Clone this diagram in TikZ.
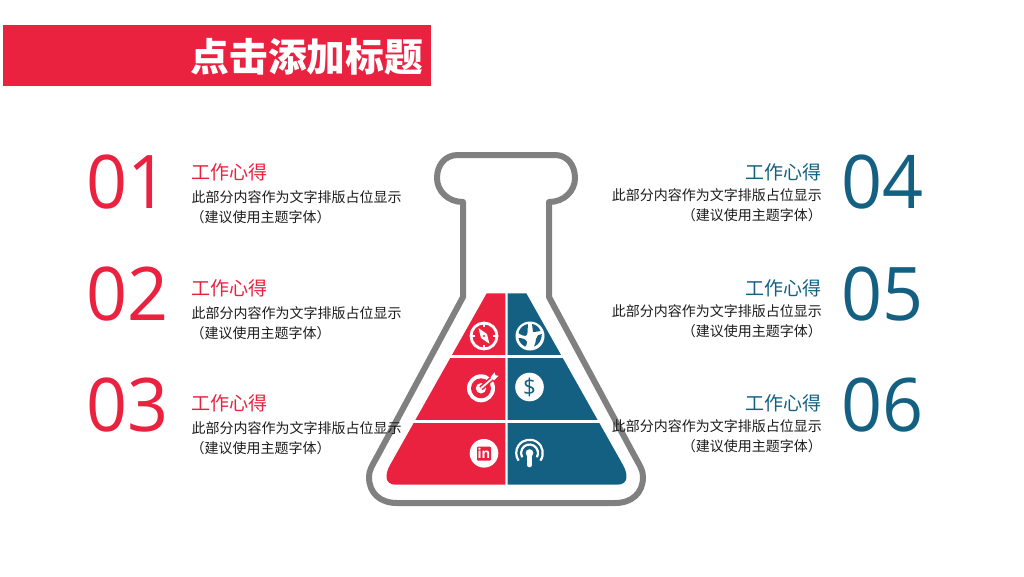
\documentclass[tikz,border=0pt]{standalone}
\usetikzlibrary{calc}
\usepackage{fontspec}
\setmainfont{Noto Sans CJK SC}
\newfontfamily\numfont[FakeStretch=0.97]{Open Sans}
\definecolor{brandred}{HTML}{EA2240}
\definecolor{brandblue}{HTML}{146082}
\definecolor{flaskgrey}{HTML}{808080}
\definecolor{bodyink}{HTML}{1C1C1C}
\tikzset{
  banner/.style={fill=brandred,draw=none},
  titletext/.style={anchor=base west,inner sep=0pt,text=white,font=\fontsize{38.8}{40}\selectfont\bfseries},
  bignum/.style={anchor=base west,inner sep=0pt,font=\fontsize{74}{74}\numfont},
  headL/.style={anchor=base west,inner sep=0pt,text=brandred,font=\fontsize{19}{20}\selectfont},
  headR/.style={anchor=base east,inner sep=0pt,text=brandblue,font=\fontsize{19}{20}\selectfont},
  bodyL/.style={anchor=base west,inner sep=0pt,text=bodyink,font=\fontsize{14}{15}\selectfont},
  bodyR/.style={anchor=base east,inner sep=0pt,text=bodyink,font=\fontsize{14}{15}\selectfont},
  flask/.style={draw=flaskgrey,line width=6pt,line join=round},
  disk/.style={fill=white,draw=none},
  iconline/.style={draw=white,line width=2.8pt,fill=none},
}
\begin{document}
\begin{tikzpicture}[x=1pt,y=-1pt]
\useasboundingbox (0,0) rectangle (1024,576);
\fill[white] (0,0) rectangle (1024,576);
% banner
\fill[banner] (3,25) rectangle (431,86);
\node[titletext] (title) at (190.3,71.5) {点击添加标题};
% pyramid
\fill[brandred] (505.3,293.3) -- (486.7,293.3) -- (390,465)
  .. controls (385,474) and (384,484.7) .. (396,484.7) -- (505.3,484.7) -- cycle;
\fill[brandblue] (507.7,293.3) -- (526.3,293.3) -- (623,465)
  .. controls (628,474) and (629,484.7) .. (617,484.7) -- (507.7,484.7) -- cycle;
\fill[white] (445,354.6) rectangle (569,357.6);
\fill[white] (405,419.8) rectangle (609,422.8);
% flask
\draw[flask] (458,155) -- (555,155)
  .. controls (567,155) and (575,165) .. (575,178)
  .. controls (575,191) and (564,202) .. (549,202)
  -- (549,297) -- (634,455)
  .. controls (640,466) and (643,470) .. (643,477)
  .. controls (643,493) and (632,503) .. (615,503)
  -- (397,503)
  .. controls (380,503) and (369,493) .. (369,477)
  .. controls (369,470) and (372,466) .. (378,455)
  -- (463,297) -- (463,202)
  .. controls (448,202) and (437,191) .. (437,178)
  .. controls (437,165) and (445,155) .. (458,155) -- cycle;
% compass icon
\coordinate (cmp) at (484,336);
\draw[iconline] (cmp) circle[radius=13pt];
\foreach \a in {0,90,180,270}{\draw[white,line width=2.6pt] (cmp) ++(\a:9pt) -- ++(\a:4pt);}
\fill[white] ($(cmp)+(125:9.5pt)$) -- ($(cmp)+(35:3.6pt)$) -- ($(cmp)+(-55:9.5pt)$) -- ($(cmp)+(215:3.6pt)$) -- cycle;
\fill[brandred] (cmp) circle[radius=1.2pt];
% globe icon
\coordinate (glb) at (530,336);
\fill[disk] (glb) circle[radius=14.5pt];
\fill[brandblue] ($(glb)+(-11.5,-3)$) .. controls ($(glb)+(-10.5,-8)$) and ($(glb)+(-7,-11)$) .. ($(glb)+(-2,-12)$)
  .. controls ($(glb)+(-2.5,-8)$) and ($(glb)+(-2,-5)$) .. ($(glb)+(-3,-1)$)
  .. controls ($(glb)+(-5,1)$) and ($(glb)+(-9,-1)$) .. ($(glb)+(-11.5,-3)$) -- cycle;
\fill[brandblue] ($(glb)+(2,-12)$) .. controls ($(glb)+(6,-11.5)$) and ($(glb)+(9,-9)$) .. ($(glb)+(10.5,-5)$)
  .. controls ($(glb)+(8,-3.5)$) and ($(glb)+(5,-5)$) .. ($(glb)+(3,-4)$)
  .. controls ($(glb)+(3,-7)$) and ($(glb)+(2,-9)$) .. ($(glb)+(2,-12)$) -- cycle;
\fill[brandblue] ($(glb)+(-11.5,2)$) .. controls ($(glb)+(-8,2)$) and ($(glb)+(-4,3)$) .. ($(glb)+(-3,6)$)
  .. controls ($(glb)+(-3,9)$) and ($(glb)+(-4,10)$) .. ($(glb)+(-5,10.5)$)
  .. controls ($(glb)+(-8,9)$) and ($(glb)+(-11,6)$) .. ($(glb)+(-11.5,2)$) -- cycle;
\fill[brandblue] ($(glb)+(11.8,-2)$) .. controls ($(glb)+(9,-2)$) and ($(glb)+(6,0)$) .. ($(glb)+(6,3)$)
  .. controls ($(glb)+(6,6)$) and ($(glb)+(5,8)$) .. ($(glb)+(4,10.5)$)
  .. controls ($(glb)+(9,9)$) and ($(glb)+(12,3)$) .. ($(glb)+(11.8,-2)$) -- cycle;
% target icon
\coordinate (tgt) at (481,388.3);
\fill[disk] (tgt) circle[radius=14pt];
\fill[brandred] (tgt) circle[radius=10pt];
\fill[disk] (tgt) circle[radius=5.2pt];
\draw[brandred,line width=5pt] (tgt) -- ($(tgt)+(17,-15)$);
\draw[white,line width=1.8pt] (tgt) -- ($(tgt)+(12,-10.5)$);
\fill[white] ($(tgt)+(9.5,-11)$) -- ($(tgt)+(13.5,-16)$) -- ($(tgt)+(14.5,-13)$) -- ($(tgt)+(17.5,-12.5)$) -- ($(tgt)+(13,-8)$) -- cycle;
% dollar icon
\coordinate (dol) at (529.5,387);
\fill[disk] (dol) circle[radius=14.3pt];
\node[inner sep=0pt,text=brandblue,font=\fontsize{23}{23}\numfont] (dollar) at (dol) {\$};
% linkedin icon
\coordinate (lnk) at (484,453.3);
\fill[disk] (lnk) circle[radius=14.3pt];
\fill[brandred,rounded corners=1pt] (477,446.5) rectangle (491,460.5);
\node[inner sep=0pt,text=white,font=\fontsize{13.5}{13.5}\numfont\bfseries] (linkedin) at (484,453) {in};
% podcast icon
\coordinate (pod) at (529.5,453);
\draw[white,line width=2.2pt] (pod) ++(-35:13.3pt) arc[start angle=-35,end angle=215,radius=13.3pt];
\draw[white,line width=2.2pt] (pod) ++(-30:8.5pt) arc[start angle=-30,end angle=210,radius=8.5pt];
\fill[white] (pod) circle[radius=3.8pt];
\draw[white,line width=4.6pt,line cap=round] (pod) -- ($(pod)+(0,12)$);
% left column
\node[bignum,text=brandred] (n1) at (86,208) {01};
\node[bignum,text=brandred] (n2) at (86,320) {02};
\node[bignum,text=brandred] (n3) at (86,431) {03};
\node[headL] (h1) at (191.3,179.2) {工作心得};
\node[headL] (h2) at (191.3,295.2) {工作心得};
\node[headL] (h3) at (191.3,410.2) {工作心得};
\node[bodyL] (b1a) at (191.3,202.3) {此部分内容作为文字排版占位显示};
\node[bodyL] (b1b) at (190.5,222.3) {（建议使用主题字体）};
\node[bodyL] (b2a) at (191.3,318.3) {此部分内容作为文字排版占位显示};
\node[bodyL] (b2b) at (190.5,338.3) {（建议使用主题字体）};
\node[bodyL] (b3a) at (191.3,433.3) {此部分内容作为文字排版占位显示};
\node[bodyL] (b3b) at (190.5,453.3) {（建议使用主题字体）};
% right column
\node[bignum,text=brandblue] (n4) at (841,208) {04};
\node[bignum,text=brandblue] (n5) at (841,320) {05};
\node[bignum,text=brandblue] (n6) at (841,431) {06};
\node[headR] (h4) at (822,179.2) {工作心得};
\node[headR] (h5) at (822,295.2) {工作心得};
\node[headR] (h6) at (822,410.2) {工作心得};
\node[bodyR] (b4a) at (822,200.3) {此部分内容作为文字排版占位显示};
\node[bodyR] (b4b) at (822,220.3) {（建议使用主题字体）};
\node[bodyR] (b5a) at (822,316.3) {此部分内容作为文字排版占位显示};
\node[bodyR] (b5b) at (822,336.3) {（建议使用主题字体）};
\node[bodyR] (b6a) at (822,431.3) {此部分内容作为文字排版占位显示};
\node[bodyR] (b6b) at (822,451.3) {（建议使用主题字体）};
\end{tikzpicture}
\end{document}
